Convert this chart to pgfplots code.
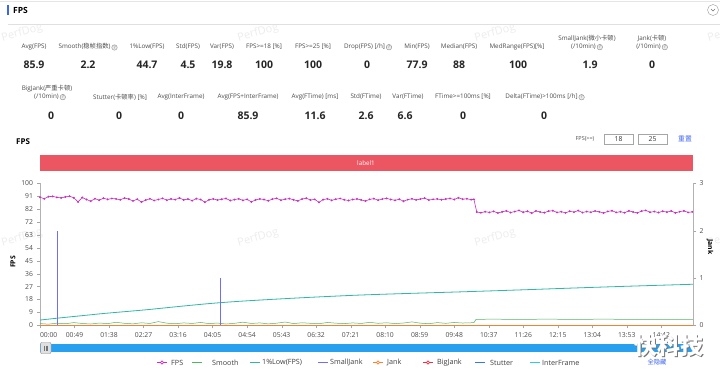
\documentclass[border=0pt]{standalone}
\usepackage{pgfplots}
\pgfplotsset{compat=1.18}
\usepackage{fontspec}
\setmainfont{Open Sans}
\newfontfamily\cjk{Noto Sans CJK SC}
\definecolor{labelred}{RGB}{236,85,98}
\definecolor{cfps}{RGB}{200,50,190}
\definecolor{csmooth}{RGB}{80,180,100}
\definecolor{clow}{RGB}{50,182,165}
\definecolor{csmall}{RGB}{110,110,250}
\definecolor{cjank}{RGB}{245,130,50}
\definecolor{cbig}{RGB}{230,50,70}
\definecolor{cstut}{RGB}{50,120,240}
\definecolor{cinter}{RGB}{40,205,230}
\definecolor{zoomblue}{RGB}{40,160,240}
\definecolor{linkblue}{RGB}{60,100,240}
\newcommand{\qi}{\,\raisebox{-0.6pt}{\tikz[baseline=-2pt]\node[circle,draw=black!45,fill=black!8,inner sep=0pt,minimum size=5.5pt,font=\fontsize{4.5}{4.5}\selectfont,text=black!55]{?};}}
\tikzset{lab/.style={font=\fontsize{6.3}{7}\selectfont,text=black!70,inner sep=0pt},
 val/.style={font=\bfseries\fontsize{10.5}{12}\selectfont,text=black!85,inner sep=0pt},
 wm/.style={font=\fontsize{11}{12}\selectfont,text=black!7,rotate=15},
 leg/.style={font=\fontsize{7.2}{8}\selectfont,text=black!75,anchor=west,inner sep=0pt}}
\begin{document}
\begin{tikzpicture}
\begin{scope}[x=1pt,y=-1pt]
\fill[white] (0,0) rectangle (720,369);
\useasboundingbox (0,0) rectangle (720,369);
% watermarks
\foreach \wx in {22,258,495,728}{
  \node[wm] at (\wx,33) {PerfDog};
  \node[wm] at (\wx,238) {PerfDog};
}
% header
\draw[black!10] (0,1.5) -- (720,1.5);
\fill[linkblue] (7,5) rectangle (8.6,15.5);
\node[anchor=west,font=\bfseries\fontsize{8.5}{9}\selectfont,inner sep=0pt] at (13,10.5) {FPS};
\draw[black!12] (8,24) -- (720,24);
\draw[black!40,fill=white] (713,10) circle (5.5);
\draw[black!55] (711,9) -- (713,11) -- (715,9);
% row 1
\node[lab] at (34,47) {Avg(FPS)};
\node[val] at (34,65) {85.9};
\node[lab] at (88,47) {Smooth({\cjk 稳帧指数})\qi};
\node[val] at (88,65) {2.2};
\node[lab] at (147,47) {1\%Low(FPS)};
\node[val] at (147,65) {44.7};
\node[lab] at (188,47) {Std(FPS)};
\node[val] at (188,65) {4.5};
\node[lab] at (222,47) {Var(FPS)};
\node[val] at (222,65) {19.8};
\node[lab] at (264,47) {FPS>=18 [\%]};
\node[val] at (264,65) {100};
\node[lab] at (313,47) {FPS>=25 [\%]};
\node[val] at (313,65) {100};
\node[lab] at (368,47) {Drop(FPS) [/h]\qi};
\node[val] at (367,65) {0};
\node[lab] at (417,47) {Min(FPS)};
\node[val] at (417,65) {77.9};
\node[lab] at (459,47) {Median(FPS)};
\node[val] at (459,65) {88};
\node[lab] at (517,47) {MedRange(FPS)[\%]};
\node[val] at (518,65) {100};
\node[lab] at (587,38.5) {SmallJank({\cjk 微小卡顿})};
\node[lab] at (587,47) {(/10min)\qi};
\node[val] at (590,65) {1.9};
\node[lab] at (652,38.5) {Jank({\cjk 卡顿})};
\node[lab] at (652,47) {(/10min)\qi};
\node[val] at (652,65) {0};
% row 2
\node[lab] at (47,88.5) {BigJank({\cjk 严重卡顿})};
\node[lab] at (50,97) {(/10min)\qi};
\node[val] at (51,116) {0};
\node[lab] at (120,97) {Stutter({\cjk 卡顿率}) [\%]};
\node[val] at (119,116) {0};
\node[lab] at (181,97) {Avg(InterFrame)};
\node[val] at (181,116) {0};
\node[lab] at (248,97) {Avg(FPS+InterFrame)};
\node[val] at (248,116) {85.9};
\node[lab] at (315,97) {Avg(FTime) [ms]};
\node[val] at (315,116) {11.6};
\node[lab] at (366,97) {Std(FTime)};
\node[val] at (366,116) {2.6};
\node[lab] at (408,97) {Var(FTime)};
\node[val] at (405,116) {6.6};
\node[lab] at (463,97) {FTime>=100ms [\%]};
\node[val] at (463,116) {0};
\node[lab] at (545,97) {Delta(FTime)>100ms [/h]\qi};
\node[val] at (544,116) {0};
% chart header
\node[anchor=west,font=\bfseries\fontsize{8}{9}\selectfont,inner sep=0pt] at (16,141.5) {FPS};
\node[lab,font=\fontsize{5.5}{6}\selectfont] at (585,139) {FPS(>=)};
\draw[black!35] (604,134) rectangle (633,144.5);
\node[lab,font=\fontsize{6.8}{7}\selectfont,text=black!80] at (618.5,139.3) {18};
\draw[black!35] (638,134) rectangle (667,144.5);
\node[lab,font=\fontsize{6.8}{7}\selectfont,text=black!80] at (652.5,139.3) {25};
\node[lab,text=linkblue,font=\cjk\fontsize{6.8}{7}\selectfont] at (685,139) {重置};
\fill[labelred] (40,155) rectangle (692.5,171);
\node[font=\fontsize{6.3}{7}\selectfont,text=white] at (366,163) {label1};
% axis titles
\node[rotate=90,font=\bfseries\fontsize{6.8}{7}\selectfont,inner sep=0pt] at (13,262) {FPS};
\node[rotate=-90,font=\bfseries\fontsize{6.8}{7}\selectfont,inner sep=0pt] at (710,247) {Jank};
% data zoom
\fill[zoomblue] (40,344) rectangle (693,352);
\draw[black!45,fill=black!12,rounded corners=1pt] (40.5,342.5) rectangle (51,353.5);
\draw[black!55,line width=0.4pt] (44,345.5) -- (44,350.5) (45.7,345.5) -- (45.7,350.5) (47.4,345.5) -- (47.4,350.5);
% legend
\draw[cfps,line width=1pt] (157,362.5) -- (167,362.5);
\draw[cfps,fill=white,line width=0.7pt] (162,362.5) circle (1.6);
\node[leg] at (171,362.5) {FPS};
\draw[csmooth,line width=1.5pt] (192,362.5) -- (202,362.5);
\node[leg] at (212,362.5) {Smooth};
\draw[clow,line width=1.5pt] (250,362.5) -- (260,362.5);
\node[leg] at (262,362.5) {1\%Low(FPS)};
\draw[csmall,line width=1.5pt] (318,362.5) -- (328,362.5);
\node[leg] at (330,362.5) {SmallJank};
\draw[cjank,line width=1pt] (373,362.5) -- (383,362.5);
\draw[cjank,fill=white,line width=0.7pt] (378,362.5) circle (1.6);
\node[leg] at (387,362.5) {Jank};
\draw[cbig,line width=1pt] (423,362.5) -- (433,362.5);
\draw[cbig,fill=white,line width=0.7pt] (428,362.5) circle (1.6);
\node[leg] at (437,362.5) {BigJank};
\draw[cstut,line width=1.5pt] (475,362.5) -- (485,362.5);
\node[leg] at (490,362.5) {Stutter};
\draw[cinter,line width=1.5pt] (530,362.5) -- (540,362.5);
\node[leg] at (542,362.5) {InterFrame};
\node[font=\cjk\fontsize{6.3}{7}\selectfont,text=linkblue] at (657,362.5) {全隐藏};
\end{scope}

\begin{axis}[
 at={(40pt,-325.3pt)}, anchor=south west,
 width=653pt, height=142pt, scale only axis,
 xmin=0, xmax=927, ymin=0, ymax=100,
 axis x line*=bottom, axis y line*=left,
 axis line style={black!30, -},
 tick style={black!35}, tick align=outside, major tick length=3pt,
 ticklabel style={font=\fontsize{6.8}{7}\selectfont, text=black!70},
 ytick={0,9.0909,18.1818,27.2727,36.3636,45.4545,54.5454,63.6363,72.7272,81.8181,90.9090,100},
 yticklabels={0,9,18,27,36,45,54,63,72,82,91,100},
 xtick={0,49,...,882},
 xticklabels={\makebox[0pt][l]{00:00},00:49,01:38,02:27,03:16,04:05,04:54,05:43,06:32,07:21,08:10,08:59,09:48,10:37,11:26,12:15,13:04,13:53,14:42},
 yticklabel style={xshift=-0.5pt},
 xticklabel style={yshift=-1pt},
 clip=false,
]
\addplot[clow, line width=0.8pt, smooth] coordinates {
(0,3.7) (30,5.3) (60,6.8) (90,8.3) (120,9.6) (150,10.9) (180,12.4) (210,13.9) (245,15.5) (280,16.8) (320,18.0) (360,19.1) (400,20.1) (454,21.3) (520,22.4) (600,23.6) (680,24.9) (760,26.3) (840,27.6) (927,28.9)};
\addplot[cinter, line width=0.6pt] coordinates {(0,0) (927,0)};
\addplot[csmooth, line width=0.5pt] coordinates {
(0,1.2) (12,0.8) (24,1.5) (36,1.1) (48,1.9) (60,1.3) (72,0.9) (84,1.6) (96,1.2) (108,2.1) (120,1.4) (132,1.0) (144,1.8) (156,1.3) (168,2.6) (180,1.5) (192,1.1) (204,1.7) (216,1.3) (228,2.0) (240,1.2) (252,1.6) (264,0.9) (276,1.4) (288,2.2) (300,1.3) (312,1.7) (324,1.0) (336,1.5) (348,2.3) (360,1.2) (372,1.8) (384,1.4) (396,1.1) (408,2.0) (420,1.5) (432,1.2) (444,1.7) (456,1.3) (468,2.1) (480,1.4) (492,1.8) (504,1.2) (516,1.6) (528,2.4) (540,1.5) (552,1.1) (564,1.9) (576,1.4) (588,2.0) (600,1.6) (612,1.8) (616,1.9)
(619,4.2) (640,4.3) (680,4.2) (720,4.3) (760,4.2) (800,4.3) (840,4.2) (880,4.2) (927,4.1)};
\addplot[cfps, line width=0.6pt, mark=*, mark size=0.65pt] coordinates {
(0,90.2) (6,89.1) (12,90.6) (18,90.8) (24,90.1) (30,89.7) (36,90.4) (42,90.9) (48,89.8) (54,86.9) (60,90.0) (66,88.6) (72,87.4) (78,89.2) (84,88.1) (90,89.5) (96,88.7) (102,89.3) (108,89.0) (114,88.4) (120,89.6) (126,88.9) (132,87.6) (138,88.8) (144,86.8) (150,88.2) (156,89.1) (162,87.9) (168,88.6) (174,89.4) (180,88.1) (186,89.0) (192,88.5) (198,89.7) (204,88.3) (210,88.9) (216,87.8) (222,89.2) (228,88.6) (234,86.7) (240,88.4) (246,89.0) (252,88.2) (258,88.8) (264,89.3) (270,87.9) (276,88.5) (282,89.1) (288,88.0) (294,88.7) (300,86.9) (306,88.3) (312,89.0) (318,88.6) (324,87.7) (330,88.9) (336,89.4) (342,88.1) (348,88.8) (354,89.2) (360,88.4) (366,87.6) (372,88.9) (378,89.5) (384,88.2) (390,88.7) (396,86.6) (402,88.5) (408,89.1) (414,88.0) (420,88.8) (426,89.3) (432,88.4) (438,87.9) (444,88.6) (450,89.0) (456,88.3) (462,87.5) (468,88.7) (474,89.2) (480,88.1) (486,88.9) (492,89.4) (498,88.6) (504,88.0) (510,88.8) (516,87.4) (522,88.5) (528,89.1) (534,88.3) (540,88.9) (546,89.6) (552,88.2) (558,88.7) (564,89.0) (570,88.4) (576,88.9) (582,89.3) (588,88.6) (594,89.8) (600,88.8) (606,89.1) (612,88.5) (616,88.7)
(620,79.8) (626,79.3) (632,80.0) (638,79.5) (644,80.2) (650,79.1) (656,79.9) (662,80.6) (668,79.4) (674,80.1) (680,80.9) (686,79.6) (692,80.3) (698,79.0) (704,80.5) (710,79.8) (716,79.3) (722,80.4) (728,80.7) (734,79.5) (740,80.0) (746,79.2) (752,80.3) (758,79.7) (764,80.8) (770,79.4) (776,80.1) (782,79.6) (788,80.5) (794,79.9) (800,79.1) (806,80.2) (812,80.7) (818,79.5) (824,80.0) (830,79.3) (836,80.6) (842,79.8) (848,79.2) (854,80.4) (860,80.9) (866,79.6) (872,80.1) (878,79.4) (884,80.3) (890,79.7) (896,80.5) (902,79.2) (908,80.0) (914,80.6) (920,79.5) (926,79.9)};
\end{axis}

\begin{axis}[
 at={(40pt,-325.3pt)}, anchor=south west,
 width=653pt, height=142pt, scale only axis,
 xmin=0, xmax=927, ymin=0, ymax=3,
 axis x line=none, axis y line*=right,
 axis line style={black!30, -},
 tick style={black!35}, tick align=outside, major tick length=3pt,
 ytick={0,1,2,3},
 /pgf/number format/assume math mode=true,
 ticklabel style={font=\fontsize{6.8}{7}\selectfont, text=black!70},
 clip=false,
]
\addplot[csmall, line width=1.5pt] coordinates {(25,0) (25,2)};
\addplot[csmall, line width=1.5pt] coordinates {(256,0) (256,1)};
\addplot[cstut, line width=0.6pt] coordinates {(0,0) (927,0)};
\addplot[cbig, line width=0.6pt] coordinates {(0,0) (927,0)};
\addplot[cjank, line width=0.7pt] coordinates {(0,0) (927,0)};
\end{axis}

\begin{scope}[x=1pt,y=-1pt]
\node[font=\cjk\bfseries\fontsize{23}{24}\selectfont,text=black!55] at (669.8,346.8) {快科技};
\node[font=\cjk\bfseries\fontsize{23}{24}\selectfont,text=white] at (669,346) {快科技};
\end{scope}
\end{tikzpicture}
\end{document}
